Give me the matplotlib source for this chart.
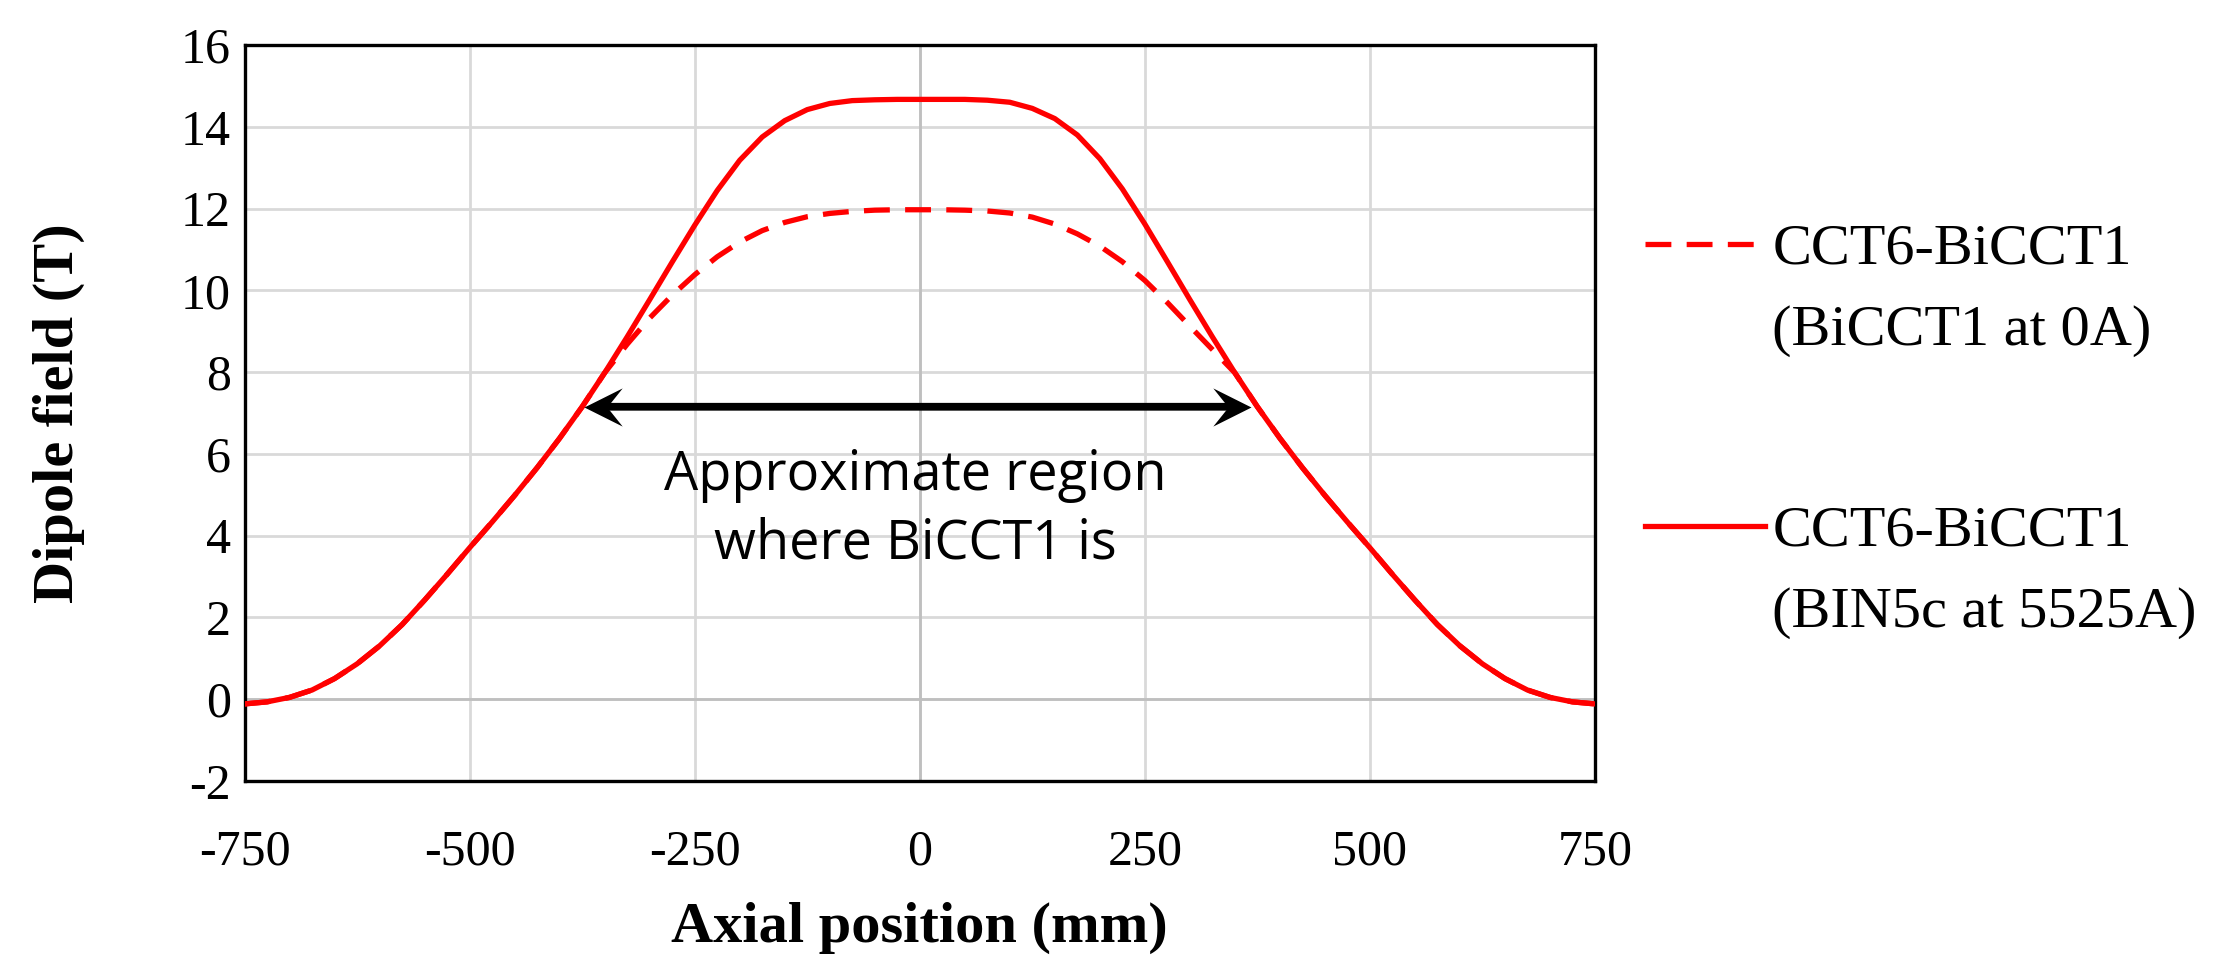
import numpy as np
import matplotlib
matplotlib.use("Agg")
import matplotlib.pyplot as plt
from matplotlib.path import Path
from matplotlib.legend_handler import HandlerLine2D

# ---- data ----
axial_mm = [-750, -725, -700, -675, -650, -625, -600, -575, -550, -525,
            -500, -475, -450, -425, -400, -375, -350, -325, -300, -275,
            -250, -225, -200, -175, -150, -125, -100, -75, -50, -25,
            0, 25, 50, 75, 100, 125, 150, 175, 200, 225,
            250, 275, 300, 325, 350, 375, 400, 425, 450, 475,
            500, 525, 550, 575, 600, 625, 650, 675, 700, 725, 750]

field_bin5c = [-0.12, -0.07, 0.04, 0.22, 0.5, 0.86, 1.3, 1.82, 2.42, 3.05,
               3.7, 4.33, 4.98, 5.66, 6.38, 7.15, 7.98, 8.86, 9.77, 10.69,
               11.59, 12.44, 13.18, 13.75, 14.15, 14.42, 14.57, 14.64, 14.66, 14.67,
               14.67, 14.67, 14.67, 14.65, 14.6, 14.45, 14.2, 13.8, 13.22, 12.48,
               11.62, 10.7, 9.77, 8.86, 7.98, 7.15, 6.38, 5.66, 4.98, 4.33,
               3.7, 3.05, 2.42, 1.82, 1.3, 0.86, 0.5, 0.22, 0.04, -0.07, -0.12]

field_bicct_0a = [-0.12, -0.07, 0.04, 0.22, 0.5, 0.86, 1.3, 1.82, 2.42, 3.05,
                  3.7, 4.33, 4.98, 5.66, 6.38, 7.15, 7.98, 8.68, 9.32, 9.88,
                  10.38, 10.82, 11.18, 11.46, 11.66, 11.8, 11.88, 11.93, 11.96, 11.97,
                  11.97, 11.97, 11.96, 11.94, 11.89, 11.79, 11.62, 11.38, 11.08, 10.7,
                  10.24, 9.7, 9.12, 8.55, 7.98, 7.15, 6.38, 5.66, 4.98, 4.33,
                  3.7, 3.05, 2.42, 1.82, 1.3, 0.86, 0.5, 0.22, 0.04, -0.07, -0.12]

legend_labels = ["CCT6-BiCCT1\n(BiCCT1 at 0A)", "CCT6-BiCCT1\n(BIN5c at 5525A)"]
x_ticks = [-750, -500, -250, 0, 250, 500, 750]
y_ticks = [-2, 0, 2, 4, 6, 8, 10, 12, 14, 16]
region_ends = [-373, 368]
region_field = 7.15
region_text = "Approximate region\nwhere BiCCT1 is"

# ---- figure ----
serif = ["Liberation Serif", "DejaVu Serif"]
fig = plt.figure(figsize=(22.23, 9.58), dpi=100)
ax = fig.add_axes([0.110, 0.185, 0.6075, 0.768])

red = "#FF0000"
lw_curve = 3.8
ax.plot(axial_mm, field_bicct_0a, color=red, lw=lw_curve, dashes=(4.9, 2.9),
        dash_capstyle="butt", label=legend_labels[0], zorder=3)
ax.plot(axial_mm, field_bin5c, color=red, lw=lw_curve, label=legend_labels[1],
        solid_joinstyle="round", zorder=4)

ax.set_xlim(-750, 750)
ax.set_ylim(-2, 16)
ax.set_xticks(x_ticks)
ax.set_yticks(y_ticks)
ax.set_xticklabels([str(v) for v in x_ticks])
ax.set_yticklabels([str(v) for v in y_ticks])
ax.grid(True, color="#d9d9d9", lw=2.0, zorder=0)
ax.axhline(0, color="#bfbfbf", lw=2.0, zorder=1)
ax.axvline(0, color="#bfbfbf", lw=2.0, zorder=1)
ax.set_axisbelow(True)

for s in ax.spines.values():
    s.set_linewidth(2.4)
    s.set_color("black")

ax.tick_params(axis="both", length=0, labelsize=36)
ax.tick_params(axis="x", pad=35)
ax.tick_params(axis="y", pad=10)
for lab in ax.get_xticklabels() + ax.get_yticklabels():
    lab.set_family(serif)

ax.set_xlabel("Axial position (mm)", fontsize=42, fontweight="bold", family=serif)
ax.set_ylabel("Dipole field (T)", fontsize=42, fontweight="bold", family=serif)
ax.xaxis.set_label_coords(0.5, -0.165)
ax.yaxis.set_label_coords(-0.118, 0.5)

# double-headed "stealth" arrow marking the BiCCT1 region
stealth_left = Path([(0, 0), (2, 1), (1.2, 0), (2, -1), (0, 0)],
                    [Path.MOVETO, Path.LINETO, Path.LINETO, Path.LINETO, Path.CLOSEPOLY])
stealth_right = Path([(0, 0), (-2, 1), (-1.2, 0), (-2, -1), (0, 0)],
                     [Path.MOVETO, Path.LINETO, Path.LINETO, Path.LINETO, Path.CLOSEPOLY])
ax.annotate("", xy=(region_ends[0], region_field), xytext=(region_ends[1], region_field),
            arrowprops=dict(arrowstyle="-", color="black", lw=5.6,
                            shrinkA=12, shrinkB=12), zorder=5)
ax.plot([region_ends[0]], [region_field], ls="none", marker=stealth_left,
        markersize=55, color="black", markeredgewidth=0, zorder=6)
ax.plot([region_ends[1]], [region_field], ls="none", marker=stealth_right,
        markersize=55, color="black", markeredgewidth=0, zorder=6)

ax.text(-5, 4.62, region_text, ha="center", va="center", fontsize=39,
        family=["Open Sans", "DejaVu Sans"], linespacing=1.32, zorder=5)


# legend: handle aligned with the first line of each two-line label
class FirstLineHandler(HandlerLine2D):
    def __init__(self, dy, **kw):
        super().__init__(**kw)
        self.dy = dy

    def create_artists(self, legend, orig_handle, xdescent, ydescent, width,
                       height, fontsize, trans):
        arts = super().create_artists(legend, orig_handle, xdescent, ydescent,
                                      width, height, fontsize, trans)
        for a in arts:
            a.set_ydata(np.asarray(a.get_ydata(), dtype=float) + self.dy)
        return arts


leg_fs = 42
leg_ls = 1.72
handles, labels = ax.get_legend_handles_labels()
shift = 0.5 * 0.915 * leg_ls * leg_fs
leg = ax.legend(handles, labels, loc="upper left", bbox_to_anchor=(1.037, 0.757),
                frameon=False, prop={"family": serif, "size": leg_fs},
                handlelength=2.06, handletextpad=0.12, labelspacing=2.55,
                borderpad=0, borderaxespad=0,
                handler_map={h: FirstLineHandler(shift) for h in handles})
for t in leg.get_texts():
    t.set_linespacing(leg_ls)

fig.savefig("out.png", dpi=100, facecolor="white")
